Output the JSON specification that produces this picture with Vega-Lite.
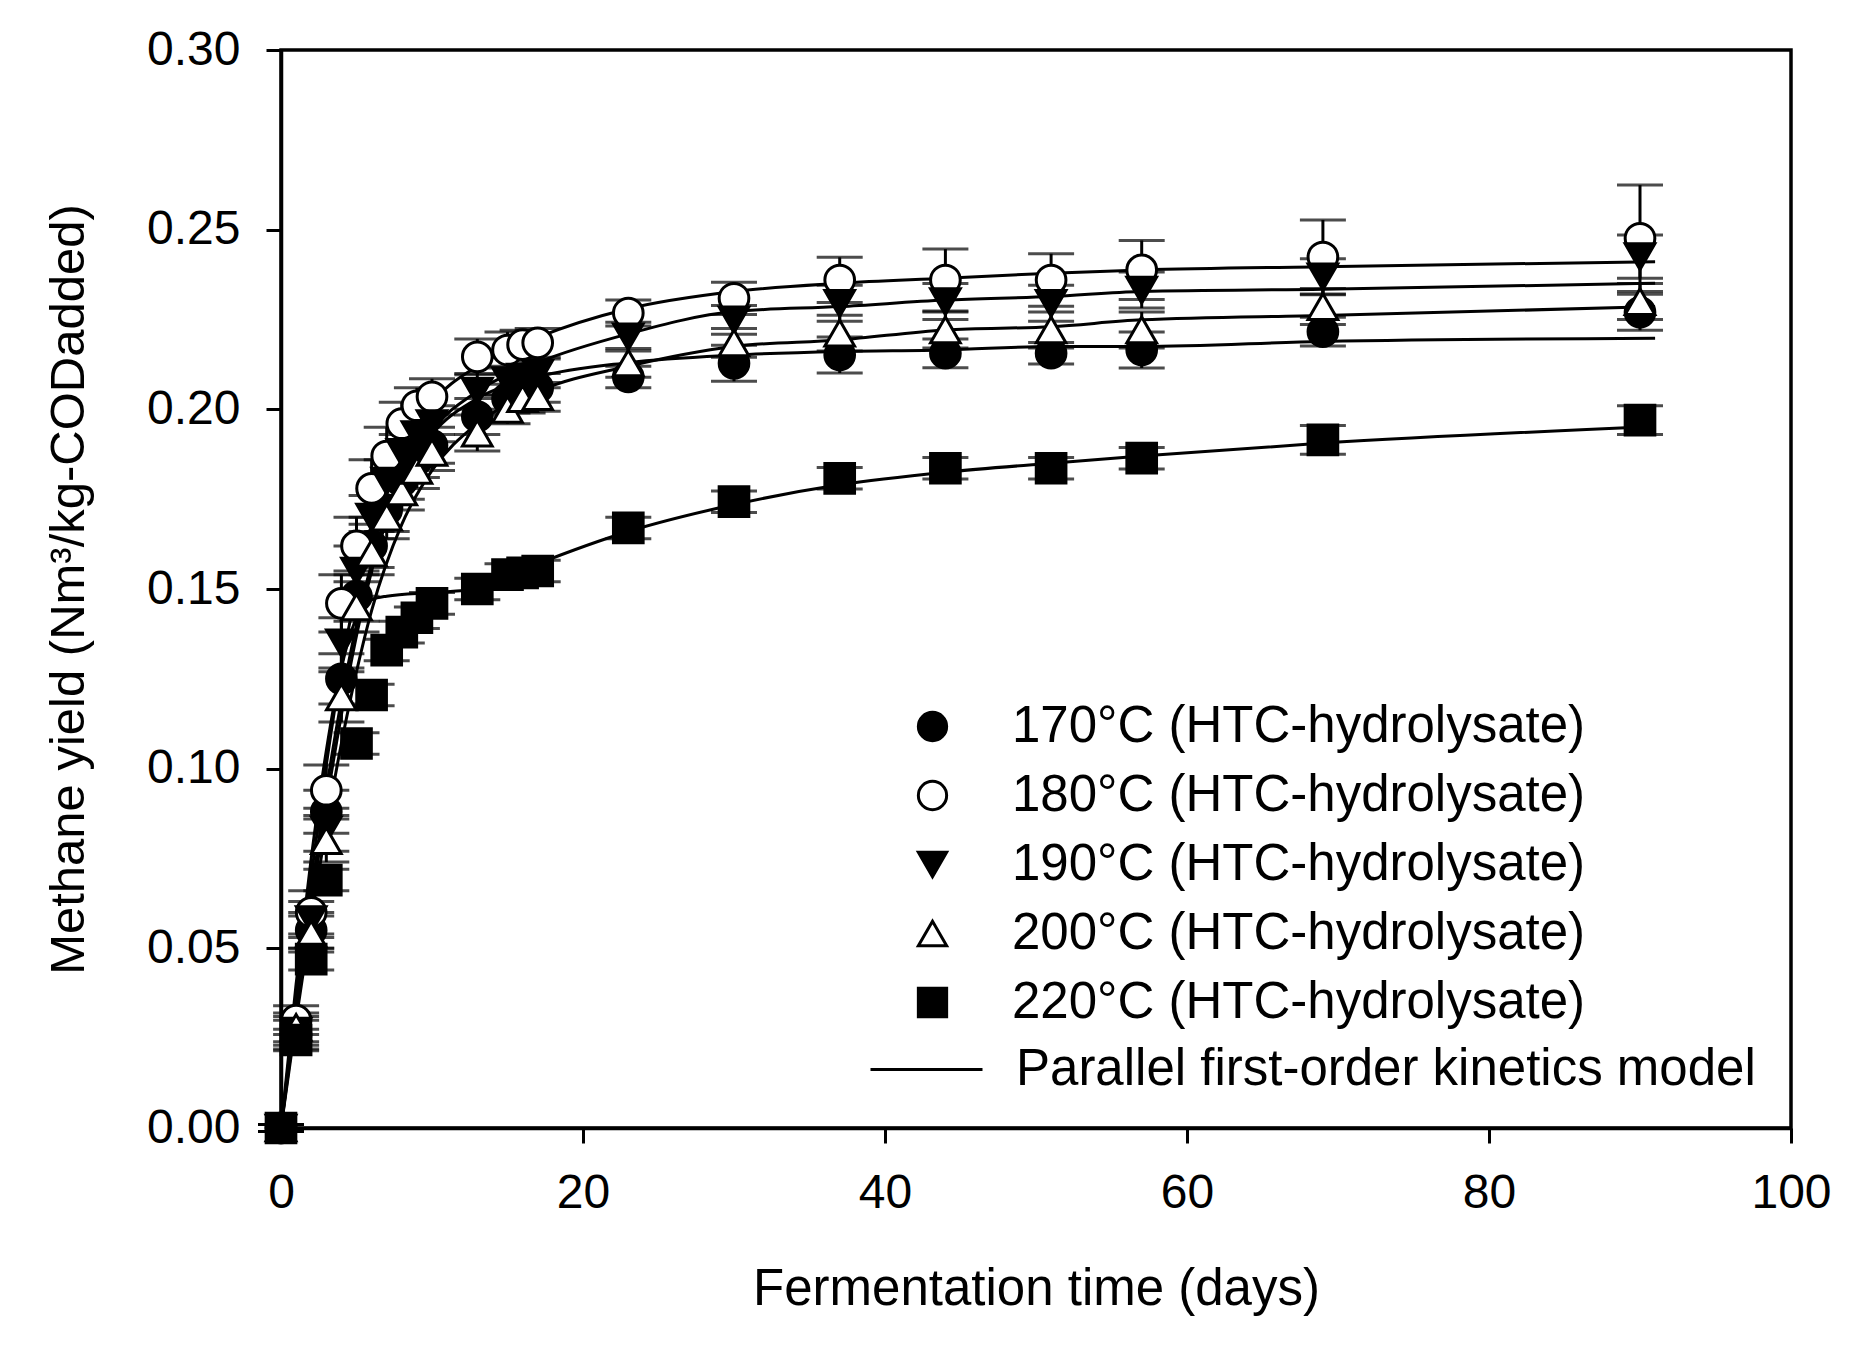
{
  "$schema": "https://vega.github.io/schema/vega-lite/v6.json",
  "width": 1510,
  "height": 1078,
  "autosize": {"type": "none"},
  "padding": {"left": 281, "top": 50, "right": 62, "bottom": 217},
  "background": "white",
  "datasets": {
    "obs": [
      {"series": "170°C (HTC-hydrolysate)", "day": 0, "value": 0, "err": 0.001},
      {"series": "170°C (HTC-hydrolysate)", "day": 1, "value": 0.026, "err": 0.004},
      {"series": "170°C (HTC-hydrolysate)", "day": 2, "value": 0.055, "err": 0.005},
      {"series": "170°C (HTC-hydrolysate)", "day": 3, "value": 0.088, "err": 0.006},
      {"series": "170°C (HTC-hydrolysate)", "day": 4, "value": 0.125, "err": 0.007},
      {"series": "170°C (HTC-hydrolysate)", "day": 5, "value": 0.148, "err": 0.007},
      {"series": "170°C (HTC-hydrolysate)", "day": 6, "value": 0.162, "err": 0.006},
      {"series": "170°C (HTC-hydrolysate)", "day": 7, "value": 0.172, "err": 0.006},
      {"series": "170°C (HTC-hydrolysate)", "day": 8, "value": 0.180, "err": 0.005},
      {"series": "170°C (HTC-hydrolysate)", "day": 9, "value": 0.186, "err": 0.005},
      {"series": "170°C (HTC-hydrolysate)", "day": 10, "value": 0.190, "err": 0.005},
      {"series": "170°C (HTC-hydrolysate)", "day": 13, "value": 0.198, "err": 0.005},
      {"series": "170°C (HTC-hydrolysate)", "day": 15, "value": 0.203, "err": 0.004},
      {"series": "170°C (HTC-hydrolysate)", "day": 16, "value": 0.205, "err": 0.004},
      {"series": "170°C (HTC-hydrolysate)", "day": 17, "value": 0.206, "err": 0.004},
      {"series": "170°C (HTC-hydrolysate)", "day": 23, "value": 0.209, "err": 0.003},
      {"series": "170°C (HTC-hydrolysate)", "day": 30, "value": 0.2128, "err": 0.005},
      {"series": "170°C (HTC-hydrolysate)", "day": 37, "value": 0.2151, "err": 0.005},
      {"series": "170°C (HTC-hydrolysate)", "day": 44, "value": 0.2156, "err": 0.004},
      {"series": "170°C (HTC-hydrolysate)", "day": 51, "value": 0.2156, "err": 0.003},
      {"series": "170°C (HTC-hydrolysate)", "day": 57, "value": 0.2165, "err": 0.005},
      {"series": "170°C (HTC-hydrolysate)", "day": 69, "value": 0.2216, "err": 0.004},
      {"series": "170°C (HTC-hydrolysate)", "day": 90, "value": 0.227, "err": 0.005},

      {"series": "180°C (HTC-hydrolysate)", "day": 0, "value": 0, "err": 0.001},
      {"series": "180°C (HTC-hydrolysate)", "day": 1, "value": 0.030, "err": 0.004},
      {"series": "180°C (HTC-hydrolysate)", "day": 2, "value": 0.060, "err": 0.006},
      {"series": "180°C (HTC-hydrolysate)", "day": 3, "value": 0.094, "err": 0.007},
      {"series": "180°C (HTC-hydrolysate)", "day": 4, "value": 0.146, "err": 0.008},
      {"series": "180°C (HTC-hydrolysate)", "day": 5, "value": 0.162, "err": 0.008},
      {"series": "180°C (HTC-hydrolysate)", "day": 6, "value": 0.178, "err": 0.008},
      {"series": "180°C (HTC-hydrolysate)", "day": 7, "value": 0.187, "err": 0.008},
      {"series": "180°C (HTC-hydrolysate)", "day": 8, "value": 0.196, "err": 0.006},
      {"series": "180°C (HTC-hydrolysate)", "day": 9, "value": 0.201, "err": 0.005},
      {"series": "180°C (HTC-hydrolysate)", "day": 10, "value": 0.2035, "err": 0.005},
      {"series": "180°C (HTC-hydrolysate)", "day": 13, "value": 0.2146, "err": 0.005},
      {"series": "180°C (HTC-hydrolysate)", "day": 15, "value": 0.2165, "err": 0.005},
      {"series": "180°C (HTC-hydrolysate)", "day": 16, "value": 0.218, "err": 0.004},
      {"series": "180°C (HTC-hydrolysate)", "day": 17, "value": 0.2185, "err": 0.004},
      {"series": "180°C (HTC-hydrolysate)", "day": 23, "value": 0.2268, "err": 0.0036},
      {"series": "180°C (HTC-hydrolysate)", "day": 30, "value": 0.2309, "err": 0.0045},
      {"series": "180°C (HTC-hydrolysate)", "day": 37, "value": 0.236, "err": 0.0063},
      {"series": "180°C (HTC-hydrolysate)", "day": 44, "value": 0.236, "err": 0.0086},
      {"series": "180°C (HTC-hydrolysate)", "day": 51, "value": 0.236, "err": 0.0073},
      {"series": "180°C (HTC-hydrolysate)", "day": 57, "value": 0.2388, "err": 0.0082},
      {"series": "180°C (HTC-hydrolysate)", "day": 69, "value": 0.2424, "err": 0.0103},
      {"series": "180°C (HTC-hydrolysate)", "day": 90, "value": 0.2476, "err": 0.0148},

      {"series": "190°C (HTC-hydrolysate)", "day": 0, "value": 0, "err": 0.001},
      {"series": "190°C (HTC-hydrolysate)", "day": 1, "value": 0.027, "err": 0.004},
      {"series": "190°C (HTC-hydrolysate)", "day": 2, "value": 0.058, "err": 0.005},
      {"series": "190°C (HTC-hydrolysate)", "day": 3, "value": 0.083, "err": 0.006},
      {"series": "190°C (HTC-hydrolysate)", "day": 4, "value": 0.135, "err": 0.007},
      {"series": "190°C (HTC-hydrolysate)", "day": 5, "value": 0.155, "err": 0.007},
      {"series": "190°C (HTC-hydrolysate)", "day": 6, "value": 0.170, "err": 0.006},
      {"series": "190°C (HTC-hydrolysate)", "day": 7, "value": 0.180, "err": 0.006},
      {"series": "190°C (HTC-hydrolysate)", "day": 8, "value": 0.188, "err": 0.005},
      {"series": "190°C (HTC-hydrolysate)", "day": 9, "value": 0.193, "err": 0.005},
      {"series": "190°C (HTC-hydrolysate)", "day": 10, "value": 0.196, "err": 0.005},
      {"series": "190°C (HTC-hydrolysate)", "day": 13, "value": 0.205, "err": 0.005},
      {"series": "190°C (HTC-hydrolysate)", "day": 15, "value": 0.208, "err": 0.004},
      {"series": "190°C (HTC-hydrolysate)", "day": 16, "value": 0.209, "err": 0.004},
      {"series": "190°C (HTC-hydrolysate)", "day": 17, "value": 0.210, "err": 0.004},
      {"series": "190°C (HTC-hydrolysate)", "day": 23, "value": 0.2202, "err": 0.004},
      {"series": "190°C (HTC-hydrolysate)", "day": 30, "value": 0.2249, "err": 0.004},
      {"series": "190°C (HTC-hydrolysate)", "day": 37, "value": 0.2295, "err": 0.005},
      {"series": "190°C (HTC-hydrolysate)", "day": 44, "value": 0.230, "err": 0.005},
      {"series": "190°C (HTC-hydrolysate)", "day": 51, "value": 0.2295, "err": 0.005},
      {"series": "190°C (HTC-hydrolysate)", "day": 57, "value": 0.2332, "err": 0.005},
      {"series": "190°C (HTC-hydrolysate)", "day": 69, "value": 0.2369, "err": 0.005},
      {"series": "190°C (HTC-hydrolysate)", "day": 90, "value": 0.2425, "err": 0.006},

      {"series": "200°C (HTC-hydrolysate)", "day": 0, "value": 0, "err": 0.001},
      {"series": "200°C (HTC-hydrolysate)", "day": 1, "value": 0.028, "err": 0.004},
      {"series": "200°C (HTC-hydrolysate)", "day": 2, "value": 0.054, "err": 0.005},
      {"series": "200°C (HTC-hydrolysate)", "day": 3, "value": 0.080, "err": 0.006},
      {"series": "200°C (HTC-hydrolysate)", "day": 4, "value": 0.120, "err": 0.007},
      {"series": "200°C (HTC-hydrolysate)", "day": 5, "value": 0.145, "err": 0.007},
      {"series": "200°C (HTC-hydrolysate)", "day": 6, "value": 0.160, "err": 0.006},
      {"series": "200°C (HTC-hydrolysate)", "day": 7, "value": 0.170, "err": 0.006},
      {"series": "200°C (HTC-hydrolysate)", "day": 8, "value": 0.177, "err": 0.005},
      {"series": "200°C (HTC-hydrolysate)", "day": 9, "value": 0.183, "err": 0.005},
      {"series": "200°C (HTC-hydrolysate)", "day": 10, "value": 0.188, "err": 0.005},
      {"series": "200°C (HTC-hydrolysate)", "day": 13, "value": 0.1934, "err": 0.005},
      {"series": "200°C (HTC-hydrolysate)", "day": 15, "value": 0.200, "err": 0.004},
      {"series": "200°C (HTC-hydrolysate)", "day": 16, "value": 0.203, "err": 0.004},
      {"series": "200°C (HTC-hydrolysate)", "day": 17, "value": 0.2035, "err": 0.004},
      {"series": "200°C (HTC-hydrolysate)", "day": 23, "value": 0.2129, "err": 0.004},
      {"series": "200°C (HTC-hydrolysate)", "day": 30, "value": 0.2185, "err": 0.004},
      {"series": "200°C (HTC-hydrolysate)", "day": 37, "value": 0.2212, "err": 0.005},
      {"series": "200°C (HTC-hydrolysate)", "day": 44, "value": 0.2221, "err": 0.005},
      {"series": "200°C (HTC-hydrolysate)", "day": 51, "value": 0.2221, "err": 0.005},
      {"series": "200°C (HTC-hydrolysate)", "day": 57, "value": 0.2221, "err": 0.005},
      {"series": "200°C (HTC-hydrolysate)", "day": 69, "value": 0.2286, "err": 0.005},
      {"series": "200°C (HTC-hydrolysate)", "day": 90, "value": 0.230, "err": 0.005},

      {"series": "220°C (HTC-hydrolysate)", "day": 0, "value": 0, "err": 0.001},
      {"series": "220°C (HTC-hydrolysate)", "day": 1, "value": 0.0245, "err": 0.003},
      {"series": "220°C (HTC-hydrolysate)", "day": 2, "value": 0.047, "err": 0.003},
      {"series": "220°C (HTC-hydrolysate)", "day": 3, "value": 0.069, "err": 0.003},
      {"series": "220°C (HTC-hydrolysate)", "day": 5, "value": 0.107, "err": 0.003},
      {"series": "220°C (HTC-hydrolysate)", "day": 6, "value": 0.1205, "err": 0.003},
      {"series": "220°C (HTC-hydrolysate)", "day": 7, "value": 0.133, "err": 0.003},
      {"series": "220°C (HTC-hydrolysate)", "day": 8, "value": 0.138, "err": 0.003},
      {"series": "220°C (HTC-hydrolysate)", "day": 9, "value": 0.142, "err": 0.003},
      {"series": "220°C (HTC-hydrolysate)", "day": 10, "value": 0.146, "err": 0.003},
      {"series": "220°C (HTC-hydrolysate)", "day": 13, "value": 0.150, "err": 0.003},
      {"series": "220°C (HTC-hydrolysate)", "day": 15, "value": 0.154, "err": 0.003},
      {"series": "220°C (HTC-hydrolysate)", "day": 16, "value": 0.1545, "err": 0.003},
      {"series": "220°C (HTC-hydrolysate)", "day": 17, "value": 0.155, "err": 0.003},
      {"series": "220°C (HTC-hydrolysate)", "day": 23, "value": 0.167, "err": 0.003},
      {"series": "220°C (HTC-hydrolysate)", "day": 30, "value": 0.1743, "err": 0.003},
      {"series": "220°C (HTC-hydrolysate)", "day": 37, "value": 0.1808, "err": 0.003},
      {"series": "220°C (HTC-hydrolysate)", "day": 44, "value": 0.1836, "err": 0.003},
      {"series": "220°C (HTC-hydrolysate)", "day": 51, "value": 0.1836, "err": 0.003},
      {"series": "220°C (HTC-hydrolysate)", "day": 57, "value": 0.1864, "err": 0.003},
      {"series": "220°C (HTC-hydrolysate)", "day": 69, "value": 0.1915, "err": 0.004},
      {"series": "220°C (HTC-hydrolysate)", "day": 90, "value": 0.197, "err": 0.004}
    ],
    "model": [
      {"series": "170", "day": 0, "value": 0},
      {"series": "170", "day": 1, "value": 0.034},
      {"series": "170", "day": 2, "value": 0.065},
      {"series": "170", "day": 3, "value": 0.094},
      {"series": "170", "day": 4, "value": 0.119},
      {"series": "170", "day": 5, "value": 0.140},
      {"series": "170", "day": 6, "value": 0.157},
      {"series": "170", "day": 8, "value": 0.180},
      {"series": "170", "day": 10, "value": 0.193},
      {"series": "170", "day": 13, "value": 0.203},
      {"series": "170", "day": 17, "value": 0.209},
      {"series": "170", "day": 23, "value": 0.213},
      {"series": "170", "day": 30, "value": 0.2151},
      {"series": "170", "day": 37, "value": 0.2161},
      {"series": "170", "day": 44, "value": 0.2165},
      {"series": "170", "day": 51, "value": 0.2175},
      {"series": "170", "day": 57, "value": 0.2175},
      {"series": "170", "day": 69, "value": 0.2189},
      {"series": "170", "day": 91, "value": 0.2198},

      {"series": "180", "day": 0, "value": 0},
      {"series": "180", "day": 1, "value": 0.036},
      {"series": "180", "day": 2, "value": 0.070},
      {"series": "180", "day": 3, "value": 0.101},
      {"series": "180", "day": 4, "value": 0.128},
      {"series": "180", "day": 5, "value": 0.150},
      {"series": "180", "day": 6, "value": 0.168},
      {"series": "180", "day": 8, "value": 0.190},
      {"series": "180", "day": 10, "value": 0.202},
      {"series": "180", "day": 13, "value": 0.212},
      {"series": "180", "day": 17, "value": 0.220},
      {"series": "180", "day": 23, "value": 0.228},
      {"series": "180", "day": 30, "value": 0.2328},
      {"series": "180", "day": 37, "value": 0.2351},
      {"series": "180", "day": 44, "value": 0.2365},
      {"series": "180", "day": 51, "value": 0.2379},
      {"series": "180", "day": 57, "value": 0.2388},
      {"series": "180", "day": 69, "value": 0.2397},
      {"series": "180", "day": 91, "value": 0.2411},

      {"series": "190", "day": 0, "value": 0},
      {"series": "190", "day": 1, "value": 0.032},
      {"series": "190", "day": 2, "value": 0.062},
      {"series": "190", "day": 3, "value": 0.090},
      {"series": "190", "day": 4, "value": 0.115},
      {"series": "190", "day": 5, "value": 0.137},
      {"series": "190", "day": 6, "value": 0.155},
      {"series": "190", "day": 8, "value": 0.180},
      {"series": "190", "day": 10, "value": 0.194},
      {"series": "190", "day": 13, "value": 0.205},
      {"series": "190", "day": 17, "value": 0.213},
      {"series": "190", "day": 23, "value": 0.221},
      {"series": "190", "day": 30, "value": 0.2272},
      {"series": "190", "day": 37, "value": 0.2286},
      {"series": "190", "day": 44, "value": 0.2304},
      {"series": "190", "day": 51, "value": 0.2314},
      {"series": "190", "day": 57, "value": 0.2328},
      {"series": "190", "day": 69, "value": 0.2334},
      {"series": "190", "day": 91, "value": 0.2351},

      {"series": "200", "day": 0, "value": 0},
      {"series": "200", "day": 1, "value": 0.030},
      {"series": "200", "day": 2, "value": 0.058},
      {"series": "200", "day": 3, "value": 0.084},
      {"series": "200", "day": 4, "value": 0.107},
      {"series": "200", "day": 5, "value": 0.127},
      {"series": "200", "day": 6, "value": 0.144},
      {"series": "200", "day": 8, "value": 0.168},
      {"series": "200", "day": 10, "value": 0.183},
      {"series": "200", "day": 13, "value": 0.196},
      {"series": "200", "day": 17, "value": 0.205},
      {"series": "200", "day": 23, "value": 0.212},
      {"series": "200", "day": 30, "value": 0.2175},
      {"series": "200", "day": 37, "value": 0.2193},
      {"series": "200", "day": 44, "value": 0.2221},
      {"series": "200", "day": 51, "value": 0.223},
      {"series": "200", "day": 57, "value": 0.2249},
      {"series": "200", "day": 69, "value": 0.2261},
      {"series": "200", "day": 91, "value": 0.2286},

      {"series": "220", "day": 0, "value": 0},
      {"series": "220", "day": 1, "value": 0.040},
      {"series": "220", "day": 2, "value": 0.075},
      {"series": "220", "day": 3, "value": 0.105},
      {"series": "220", "day": 4, "value": 0.128},
      {"series": "220", "day": 5, "value": 0.142},
      {"series": "220", "day": 6, "value": 0.147},
      {"series": "220", "day": 7, "value": 0.148},
      {"series": "220", "day": 10, "value": 0.149},
      {"series": "220", "day": 13, "value": 0.150},
      {"series": "220", "day": 17, "value": 0.157},
      {"series": "220", "day": 23, "value": 0.166},
      {"series": "220", "day": 30, "value": 0.1735},
      {"series": "220", "day": 37, "value": 0.179},
      {"series": "220", "day": 44, "value": 0.1825},
      {"series": "220", "day": 51, "value": 0.185},
      {"series": "220", "day": 57, "value": 0.187},
      {"series": "220", "day": 69, "value": 0.1906},
      {"series": "220", "day": 91, "value": 0.1952}
    ]
  },
  "layer": [
    {
      "data": {"name": "model"},
      "mark": {"type": "line", "strokeWidth": 3, "interpolate": "monotone"},
      "encoding": {
        "x": {"field": "day", "type": "quantitative", "title": "Fermentation time (days)"},
        "y": {"field": "value", "type": "quantitative", "title": "Methane yield (Nm³/kg-CODadded)"},
        "detail": {"field": "series", "type": "nominal"},
        "stroke": {
          "datum": "Parallel first-order kinetics model",
          "type": "nominal",
          "scale": {"range": ["black"]},
          "legend": {
            "orient": "none",
            "legendX": 588,
            "legendY": 962,
            "title": null,
            "symbolType": "stroke",
            "symbolSize": 12544,
            "symbolStrokeWidth": 3,
            "symbolStrokeColor": "black",
            "labelOffset": 32,
            "labelFontSize": 51,
            "labelLimit": 1200
          }
        }
      }
    },
    {
      "data": {"name": "obs"},
      "mark": {"type": "errorbar", "ticks": true, "size": 46, "thickness": 3, "color": "black"},
      "encoding": {
        "x": {"field": "day", "type": "quantitative", "title": "Fermentation time (days)"},
        "y": {"field": "value", "type": "quantitative", "title": "Methane yield (Nm³/kg-CODadded)"},
        "yError": {"field": "err"}
      }
    },
    {
      "data": {"name": "obs"},
      "mark": {"type": "point", "filled": true, "size": 880, "stroke": "black", "strokeWidth": 3, "opacity": 1},
      "encoding": {
        "x": {
          "field": "day",
          "type": "quantitative",
          "title": "Fermentation time (days)",
          "scale": {"domain": [0, 100], "nice": false},
          "axis": {"values": [0, 20, 40, 60, 80, 100], "format": "d", "titlePadding": 47, "titleFontSize": 51}
        },
        "y": {
          "field": "value",
          "type": "quantitative",
          "title": "Methane yield (Nm³/kg-CODadded)",
          "scale": {"domain": [0, 0.3], "nice": false},
          "axis": {"values": [0, 0.05, 0.1, 0.15, 0.2, 0.25, 0.3], "format": ".2f", "titlePadding": 53, "titleFontSize": 49}
        },
        "shape": {
          "field": "series",
          "type": "nominal",
          "scale": {"range": ["circle", "circle", "triangle-down", "triangle-up", "square"]},
          "legend": {
            "orient": "none",
            "legendX": 626,
            "legendY": 651,
            "title": null,
            "symbolSize": 800,
            "symbolStrokeWidth": 3,
            "labelOffset": 54,
            "labelFontSize": 51,
            "rowPadding": 17,
            "labelLimit": 1200,
            "encode": {"symbols": {"stroke": {"value": "black"}, "strokeWidth": {"value": 3}}}
          }
        },
        "fill": {
          "field": "series",
          "type": "nominal",
          "scale": {"range": ["black", "white", "black", "white", "black"]},
          "legend": {
            "orient": "none",
            "legendX": 626,
            "legendY": 651,
            "title": null,
            "symbolSize": 800,
            "symbolStrokeWidth": 3,
            "labelOffset": 54,
            "labelFontSize": 51,
            "rowPadding": 17,
            "labelLimit": 1200,
            "encode": {"symbols": {"stroke": {"value": "black"}, "strokeWidth": {"value": 3}}}
          }
        }
      }
    }
  ],
  "config": {
    "font": "Liberation Sans",
    "view": {"stroke": "black", "strokeWidth": 3.5},
    "axis": {
      "grid": false,
      "domainColor": "black",
      "domainWidth": 3.5,
      "tickColor": "black",
      "tickWidth": 3,
      "tickSize": 15,
      "labelFontSize": 48,
      "labelColor": "black",
      "labelPadding": 26,
      "labelFlush": false,
      "labelOverlap": false,
      "titleFontSize": 50,
      "titleFontWeight": "normal",
      "titleColor": "black"
    },
    "legend": {
      "labelColor": "black",
      "labelFont": "Liberation Sans",
      "padding": 0
    }
  }
}
